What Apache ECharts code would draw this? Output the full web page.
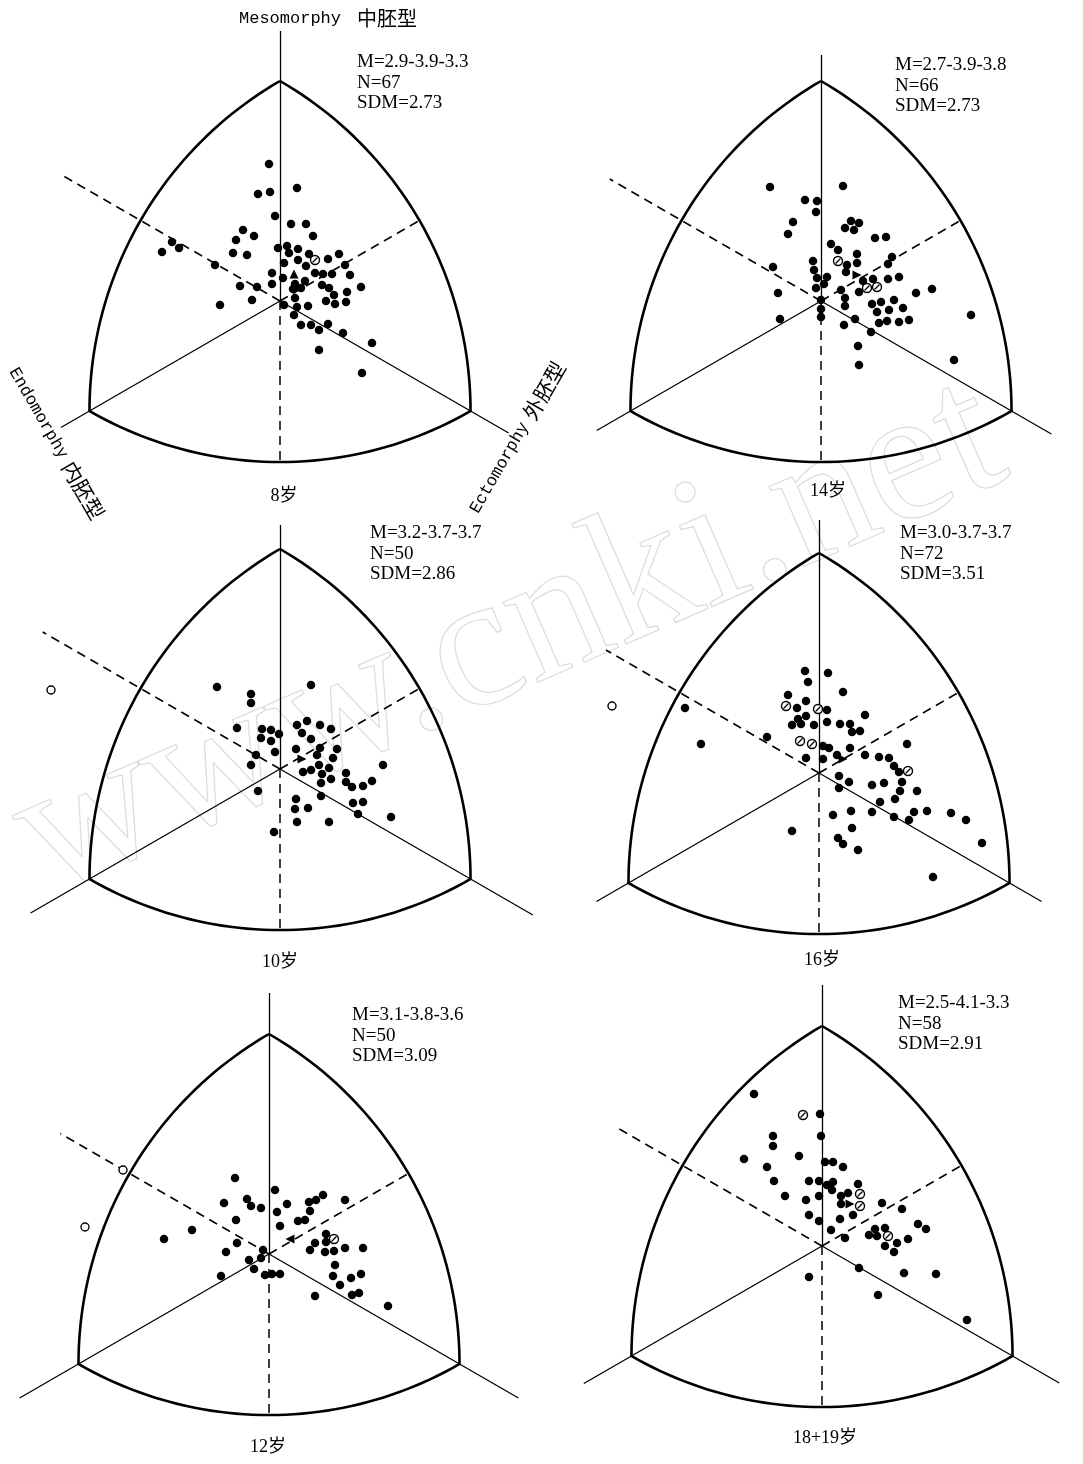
<!DOCTYPE html>
<html>
<head>
<meta charset="utf-8">
<script src="https://cdn.jsdelivr.net/npm/echarts@6/dist/echarts.min.js"></script>
<style>
html, body { margin: 0; padding: 0; background: #fff; }
#chart { width: 1083px; height: 1464px; }
</style>
</head>
<body>
<div id="chart"></div>
<script>
// somatochart panels, one per age group
// point coordinates are chart units around the origin of each somatochart (10 px per unit)
var ageLabels = ['8岁', '14岁', '10岁', '16岁', '12岁', '18+19岁'];
var meanSomatotype = ['M=2.9-3.9-3.3', 'M=2.7-3.9-3.8', 'M=3.2-3.7-3.7', 'M=3.0-3.7-3.7', 'M=3.1-3.8-3.6', 'M=2.5-4.1-3.3'];
var sampleN = [67, 66, 50, 72, 50, 58];
var sdm = ['2.73', '2.73', '2.86', '3.51', '3.09', '2.91'];

var dots8 = [[-1.1,13.7],[1.7,11.3],[-2.2,10.7],[-1.0,10.9],[-0.5,8.5],[1.1,7.7],[2.6,7.7],[3.3,6.5],[-3.7,7.1],[-4.4,6.1],[-2.6,6.5],[-10.8,5.9],[-10.1,5.3],[-11.8,4.9],[-4.7,4.8],[-3.3,4.6],[-6.5,3.6],[-0.2,5.3],[0.7,5.5],[0.9,4.8],[1.8,5.2],[2.9,4.7],[0.4,3.8],[1.8,4.1],[2.6,3.5],[4.8,4.2],[5.9,4.7],[6.5,3.6],[7.0,2.6],[3.5,2.8],[4.3,2.7],[5.2,2.7],[-0.8,2.8],[0.3,2.3],[-0.8,1.7],[2.5,2.0],[1.5,1.7],[4.2,1.6],[4.9,1.3],[5.4,0.6],[6.7,0.9],[8.1,1.4],[1.3,1.2],[2.1,1.3],[1.5,0.3],[4.6,0.0],[5.5,-0.3],[6.6,-0.1],[-4.0,1.5],[-2.3,1.4],[-2.8,0.1],[-6.0,-0.4],[0.4,-0.4],[1.7,-0.6],[2.8,-0.5],[1.4,-1.4],[2.1,-2.4],[3.1,-2.4],[3.9,-2.9],[4.8,-2.3],[6.3,-3.2],[9.2,-4.2],[3.9,-4.9],[8.2,-7.2]];
var circled8 = [[3.5,4.1]];
var open8 = [];
var mean8 = [[1.4,2.7]];

var dots14 = [[-5.1,11.4],[2.2,11.5],[-1.6,10.1],[-0.4,10.0],[-0.5,8.9],[-2.8,7.9],[-3.3,6.7],[3.0,8.0],[3.8,7.8],[2.4,7.3],[3.3,7.1],[5.4,6.3],[6.5,6.4],[1.0,5.7],[1.7,5.1],[3.6,4.7],[7.1,4.4],[-0.8,4.0],[3.6,3.8],[2.6,3.6],[-0.7,3.1],[2.5,2.9],[0.6,2.4],[-0.4,2.3],[6.7,3.7],[-4.8,3.4],[4.2,2.0],[5.2,2.2],[6.7,2.2],[7.8,2.4],[0.3,1.7],[-0.5,1.3],[2.0,1.1],[3.8,0.9],[9.5,0.8],[11.1,1.2],[-4.3,0.8],[2.4,0.3],[2.4,-0.5],[5.1,-0.3],[6.0,-0.1],[7.3,0.1],[0,0.1],[0,-0.8],[0,-1.6],[5.6,-1.1],[6.8,-0.9],[8.2,-0.7],[5.8,-2.2],[6.6,-2.0],[7.8,-2.1],[8.8,-1.9],[3.4,-1.8],[2.3,-2.4],[5.0,-3.1],[-4.1,-1.8],[3.7,-4.5],[3.8,-6.4],[15.0,-1.4],[13.3,-5.9]];
var circled14 = [[1.7,4.0],[4.6,1.3],[5.6,1.4]];
var open14 = [];
var mean14 = [[3.6,2.6]];

var dots10 = [[-6.3,8.2],[3.1,8.4],[-2.9,7.5],[-2.9,6.6],[-4.3,4.1],[-1.8,4.0],[-0.9,3.9],[-0.1,3.5],[-1.9,3.1],[-0.9,2.8],[-0.5,1.7],[-2.4,1.4],[-2.9,0.4],[1.7,4.4],[2.7,4.8],[2.2,3.6],[4.0,4.4],[5.1,4.0],[3.1,3.0],[1.6,2.0],[4.0,2.1],[3.7,1.4],[5.7,2.0],[5.3,1.1],[3.9,0.4],[4.9,0.1],[2.3,-0.3],[3.1,-0.1],[4.2,-0.5],[4.1,-1.4],[5.1,-1.0],[6.6,-0.4],[6.6,-1.3],[7.2,-1.8],[8.3,-1.7],[9.2,-1.2],[10.3,0.4],[4.1,-2.7],[7.3,-3.4],[8.3,-3.3],[7.8,-4.5],[11.1,-4.8],[1.6,-3.0],[1.5,-4.0],[2.8,-3.9],[1.7,-5.3],[4.9,-5.3],[-2.2,-2.2],[-0.6,-6.3]];
var circled10 = [];
var open10 = [[-22.9,7.9]];
var mean10 = [[2.2,1.0]];

var dots16 = [[-1.4,10.2],[0.9,10.0],[-1.1,9.1],[2.4,8.1],[-3.1,7.8],[-1.3,7.2],[-2.2,6.5],[0.8,6.3],[4.6,5.8],[-2.1,5.4],[-1.3,5.7],[-2.7,4.8],[-1.8,4.9],[-0.5,4.8],[0.8,5.1],[2.1,4.9],[3.1,4.9],[3.3,4.1],[4.1,4.2],[-13.4,6.5],[-11.8,2.9],[-5.2,3.6],[0.4,2.7],[1.0,2.5],[3.1,2.5],[-1.3,1.5],[0.4,1.4],[1.8,1.8],[4.6,1.8],[6.0,1.6],[7.0,1.5],[8.8,2.9],[7.5,0.7],[8.0,0.1],[2.0,-0.3],[3.0,-0.9],[2.0,-1.5],[5.3,-1.2],[6.5,-1.0],[8.3,-0.9],[8.1,-1.8],[9.8,-1.8],[7.6,-2.6],[6.1,-2.9],[5.3,-3.9],[3.2,-3.8],[1.4,-4.2],[7.5,-4.4],[9.5,-3.9],[9.0,-4.7],[10.8,-3.8],[13.2,-4.0],[14.7,-4.7],[3.3,-5.5],[1.9,-6.5],[2.4,-7.1],[3.9,-7.7],[-2.7,-5.8],[16.3,-7.0],[11.4,-10.4]];
var circled16 = [[-3.3,6.7],[-0.1,6.4],[-1.9,3.2],[-0.7,2.9],[8.9,0.2]];
var open16 = [[-20.7,6.7]];
var mean16 = [[2.4,1.4]];

var dots12 = [[-3.4,7.6],[0.6,6.4],[-2.2,5.5],[-4.5,5.1],[-1.8,4.8],[-0.8,4.6],[0.8,4.2],[1.8,5.0],[4.0,5.2],[4.7,5.4],[5.4,5.9],[7.6,5.4],[4.1,4.3],[2.9,3.3],[3.6,3.4],[-3.3,3.4],[1.1,2.8],[-7.7,2.4],[-10.5,1.5],[-3.2,1.1],[-4.3,0.2],[-0.6,0.4],[-0.8,-0.4],[-2.0,-0.6],[-1.5,-1.5],[-4.8,-2.2],[-0.4,-2.1],[0.3,-2.0],[1.1,-2.0],[5.7,2.0],[4.6,1.1],[5.7,1.2],[4.1,0.4],[5.6,0.2],[6.5,0.3],[7.6,0.6],[9.4,0.6],[6.6,-1.1],[6.4,-2.2],[8.2,-2.4],[9.2,-2.0],[7.1,-3.1],[8.3,-4.1],[9.0,-3.9],[4.6,-4.2],[11.9,-5.2]];
var circled12 = [[6.5,1.5]];
var open12 = [[-14.6,8.4],[-18.4,2.7]];
var mean12 = [[2.1,1.5]];

var dots18 = [[-6.8,15.2],[-0.2,13.2],[-0.1,11.0],[-4.9,11.0],[-4.9,10.0],[-2.3,9.0],[-7.8,8.7],[-5.5,7.9],[0.3,8.4],[1.1,8.4],[2.1,7.9],[-4.8,6.5],[-1.3,6.5],[-0.3,6.5],[0.5,6.1],[1.1,6.4],[1.0,5.6],[3.6,6.2],[-3.7,5.0],[-1.6,4.6],[-0.3,5.0],[1.9,5.0],[2.6,5.3],[1.9,4.2],[-1.3,3.1],[3.1,3.1],[1.8,2.7],[-0.3,2.5],[0.9,1.6],[2.3,0.8],[6.0,4.3],[8.0,3.7],[9.6,2.2],[10.4,1.7],[5.3,1.7],[6.3,1.8],[4.7,1.1],[5.5,1.0],[7.5,0.3],[6.3,0.0],[8.6,0.7],[7.2,-0.6],[-1.3,-3.1],[3.7,-2.2],[5.6,-4.9],[8.2,-2.7],[11.4,-2.8],[14.5,-7.4]];
var circled18 = [[-1.9,13.1],[3.8,5.2],[3.8,4.0],[6.6,1.0]];
var open18 = [];
var mean18 = [[2.8,4.2]];

var panelData = [
    {dots: dots8,  circled: circled8,  open: open8,  mean: mean8},
    {dots: dots14, circled: circled14, open: open14, mean: mean14},
    {dots: dots10, circled: circled10, open: open10, mean: mean10},
    {dots: dots16, circled: circled16, open: open16, mean: mean16},
    {dots: dots12, circled: circled12, open: open12, mean: mean12},
    {dots: dots18, circled: circled18, open: open18, mean: mean18}
];

// where each somatochart sits on the page and how far its axis lines reach
var panelBox = [
    {cx: 280, cy: 301,  top: 27.0, dl: 25.3, dr: 26.4, ul: 25.1, tri: 0,   statX: 357, statY: 52,   labelX: 284, labelY: 496},
    {cx: 821, cy: 301,  top: 24.6, dl: 25.9, dr: 26.6, ul: 24.4, tri: -90, statX: 895, statY: 55,   labelX: 828, labelY: 491},
    {cx: 280, cy: 769,  top: 24.4, dl: 28.8, dr: 29.2, ul: 27.4, tri: -90, statX: 370, statY: 523,  labelX: 280, labelY: 962},
    {cx: 819, cy: 773,  top: 25.3, dl: 25.7, dr: 25.7, ul: 24.6, tri: -90, statX: 900, statY: 523,  labelX: 822, labelY: 960},
    {cx: 269, cy: 1254, top: 26.1, dl: 28.8, dr: 28.8, ul: 24.1, tri: 90,  statX: 352, statY: 1005, labelX: 268, labelY: 1447},
    {cx: 822, cy: 1246, top: 26.1, dl: 27.5, dr: 27.4, ul: 23.9, tri: -90, statX: 898, statY: 993,  labelX: 825, labelY: 1438}
];

var R = 22;                 // circumradius of the triangle
var S = R * Math.sqrt(3);   // radius of each side arc
var MID = S - R;            // origin to the middle of a side arc
var X_HALF = 26, Y_TOP = 28, Y_BOTTOM = -19, PX = 10;

function dir(deg, len) {
    var a = deg * Math.PI / 180;
    return [len * Math.cos(a), len * Math.sin(a)];
}
function arc(c, a0, a1) {
    var pts = [];
    for (var i = 0; i <= 48; i++) {
        var a = (a0 + (a1 - a0) * i / 48) * Math.PI / 180;
        pts.push([c[0] + S * Math.cos(a), c[1] + S * Math.sin(a)]);
    }
    return pts;
}
var V = [[0, R], dir(210, R), dir(330, R)];
var frame = arc(V[2], 120, 180).concat(arc(V[0], 240, 300)).concat(arc(V[1], 0, 60));

var grids = [], xAxes = [], yAxes = [], series = [], graphics = [];

panelBox.forEach(function (b, i) {
    grids.push({
        left: b.cx - X_HALF * PX, top: b.cy - Y_TOP * PX,
        width: 2 * X_HALF * PX, height: (Y_TOP - Y_BOTTOM) * PX
    });
    xAxes.push({type: 'value', gridIndex: i, min: -X_HALF, max: X_HALF, show: false});
    yAxes.push({type: 'value', gridIndex: i, min: Y_BOTTOM, max: Y_TOP, show: false});
    var ax = {coordinateSystem: 'cartesian2d', xAxisIndex: i, yAxisIndex: i, silent: true, clip: false};

    series.push(Object.assign({
        type: 'lines', polyline: true, z: 3,
        lineStyle: {color: '#000', width: 2.6, opacity: 1},
        data: [{coords: frame}]
    }, ax));
    series.push(Object.assign({
        type: 'lines', z: 2,
        lineStyle: {color: '#000', width: 1.3, opacity: 1},
        data: [
            {coords: [[0, 0], [0, b.top]]},
            {coords: [[0, 0], dir(210, b.dl)]},
            {coords: [[0, 0], dir(330, b.dr)]}
        ]
    }, ax));
    series.push(Object.assign({
        type: 'lines', z: 2,
        lineStyle: {color: '#000', width: 1.5, opacity: 1, type: [9, 6]},
        data: [
            {coords: [[0, 0], dir(150, b.ul)]},
            {coords: [[0, 0], dir(30, MID)]},
            {coords: [[0, 0], [0, -MID]]}
        ]
    }, ax));

    var d = panelData[i];
    series.push({
        type: 'scatter', xAxisIndex: i, yAxisIndex: i, silent: true, z: 5,
        symbolSize: 8.5, itemStyle: {color: '#000', opacity: 1},
        data: d.dots
    });
    series.push({
        type: 'scatter', xAxisIndex: i, yAxisIndex: i, silent: true, z: 5,
        symbol: 'circle', symbolSize: 9,
        itemStyle: {color: '#fff', borderColor: '#000', borderWidth: 1.4, opacity: 1},
        data: d.circled
    });
    series.push({
        type: 'scatter', xAxisIndex: i, yAxisIndex: i, silent: true, z: 6,
        symbol: 'path://M0,10L10,0', symbolSize: 5,
        itemStyle: {color: 'none', borderColor: '#000', borderWidth: 1.2, opacity: 1},
        data: d.circled
    });
    series.push({
        type: 'scatter', xAxisIndex: i, yAxisIndex: i, silent: true, z: 5,
        symbol: 'circle', symbolSize: 8,
        itemStyle: {color: '#fff', borderColor: '#000', borderWidth: 1.4, opacity: 1},
        data: d.open
    });
    series.push({
        type: 'scatter', xAxisIndex: i, yAxisIndex: i, silent: true, z: 5,
        symbol: 'triangle', symbolSize: 9, symbolRotate: b.tri,
        itemStyle: {color: '#000', opacity: 1},
        data: d.mean
    });

    graphics.push({
        type: 'text', x: b.statX, y: b.statY, silent: true,
        style: {
            text: meanSomatotype[i] + '\nN=' + sampleN[i] + '\nSDM=' + sdm[i],
            font: '19px "Liberation Serif"', fill: '#000', lineHeight: 20.5,
            textAlign: 'left', textVerticalAlign: 'top'
        }
    });
    graphics.push({
        type: 'text', x: b.labelX, y: b.labelY, silent: true,
        style: {
            text: ageLabels[i],
            font: '18px "Liberation Serif", "Noto Sans CJK SC"', fill: '#000',
            textAlign: 'center', textVerticalAlign: 'middle'
        }
    });
});

// axis names of the somatochart
graphics.push({
    type: 'text', x: 239, y: 18, silent: true,
    style: {text: 'Mesomorphy', font: '17px "Liberation Mono"', fill: '#000', textAlign: 'left', textVerticalAlign: 'middle'}
});
graphics.push({
    type: 'text', x: 357, y: 18, silent: true,
    style: {text: '中胚型', font: '20px "Noto Sans CJK SC"', fill: '#000', textAlign: 'left', textVerticalAlign: 'middle'}
});
graphics.push({
    type: 'text', x: 13, y: 369, rotation: -Math.PI / 3, silent: true,
    style: {
        text: '{a|Endomorphy}  {b|内胚型}',
        rich: {a: {font: '17px "Liberation Mono"'}, b: {font: '21px "Noto Sans CJK SC"'}},
        fill: '#000', textAlign: 'left', textVerticalAlign: 'middle'
    }
});
graphics.push({
    type: 'text', x: 474, y: 512, rotation: Math.PI / 3, silent: true,
    style: {
        text: '{a|Ectomorphy}  {b|外胚型}',
        rich: {a: {font: '17px "Liberation Mono"'}, b: {font: '21px "Noto Sans CJK SC"'}},
        fill: '#000', textAlign: 'left', textVerticalAlign: 'middle'
    }
});
// faint watermark of the source page
graphics.push({
    type: 'text', x: 510, y: 640, rotation: 0.41, silent: true, z: -1,
    style: {
        text: 'www.cnki.net', font: '190px "Liberation Serif"',
        fill: 'rgba(0,0,0,0)', stroke: '#dcdcdc', lineWidth: 1.2,
        textAlign: 'center', textVerticalAlign: 'middle'
    }
});

var myChart = echarts.init(document.getElementById('chart'));
myChart.setOption({
    animation: false,
    backgroundColor: '#fff',
    grid: grids,
    xAxis: xAxes,
    yAxis: yAxes,
    series: series,
    graphic: graphics
});
</script>
</body>
</html>
